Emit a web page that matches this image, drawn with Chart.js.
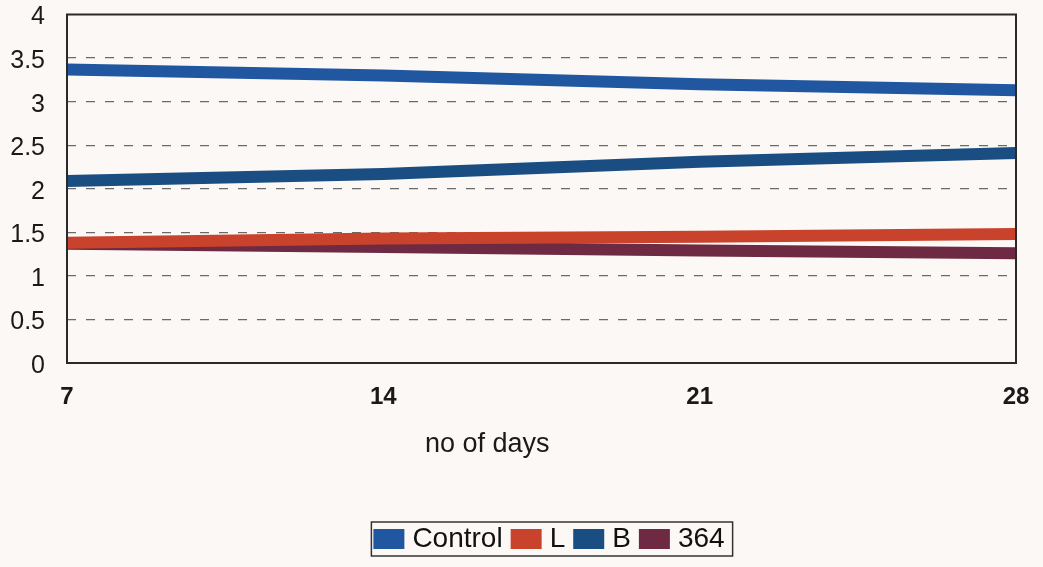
<!DOCTYPE html>
<html>
<head>
<meta charset="utf-8">
<script src="https://cdn.jsdelivr.net/npm/chart.js@4"></script>
<style>
  html, body { margin: 0; padding: 0; background: #fcf8f6; }
  #wrap { width: 1043px; height: 567px; position: relative; }
</style>
</head>
<body>
<div id="wrap"><canvas id="c" width="1043" height="567"></canvas></div>
<script>
// Days of measurement
const days = [7, 14, 21, 28];

// Series values per day
const controlVals = [3.37, 3.30, 3.20, 3.13];
const lVals       = [1.38, 1.43, 1.45, 1.48];
const bVals       = [2.09, 2.17, 2.31, 2.41];
const s364Vals    = [1.37, 1.33, 1.29, 1.26];

const seriesNames = ['Control', 'L', 'B', '364'];
const xTicks = [7, 14, 21, 28];
const yTickStep = 0.5;

const FONT = "'Liberation Sans', Arial, sans-serif";

function toPoints(vals) {
  return days.map((d, i) => ({ x: d, y: vals[i] }));
}

// Solid frame around the plot area
const frame = {
  id: 'frame',
  afterDatasetsDraw(chart) {
    const a = chart.chartArea, ctx = chart.ctx;
    ctx.save();
    ctx.strokeStyle = '#2a2a2a';
    ctx.lineWidth = 2;
    ctx.strokeRect(a.left, a.top, a.right - a.left, a.bottom - a.top);
    ctx.restore();
  }
};

// Axis caption under the day labels
const xCaption = {
  id: 'xCaption',
  afterDraw(chart) {
    const ctx = chart.ctx, xs = chart.scales.x;
    ctx.save();
    ctx.fillStyle = '#1a1a1a';
    ctx.font = "27px " + FONT;
    ctx.textAlign = 'center';
    ctx.textBaseline = 'middle';
    ctx.fillText('no of days', xs.getPixelForValue(16.3), chart.chartArea.bottom + 82);
    ctx.restore();
  }
};

// Legend sits a little right of the canvas centre
const legendShift = {
  id: 'legendShift',
  afterLayout(chart) {
    const lg = chart.legend;
    if (!lg) return;
    lg.left += 44;
    lg.right += 44;
  }
};

// Box around the legend entries
const legendBox = {
  id: 'legendBox',
  afterDraw(chart) {
    const lg = chart.legend;
    if (!lg || !lg.legendHitBoxes || !lg.legendHitBoxes.length) return;
    const hb = lg.legendHitBoxes;
    let l = Infinity, r = -Infinity, t = Infinity, b = -Infinity;
    hb.forEach(h => {
      l = Math.min(l, h.left); r = Math.max(r, h.left + h.width);
      t = Math.min(t, h.top); b = Math.max(b, h.top + h.height);
    });
    const ctx = chart.ctx;
    ctx.save();
    ctx.strokeStyle = '#333';
    ctx.lineWidth = 1.5;
    ctx.strokeRect(l - 8, t - 3, (r - l) + 16, (b - t) + 6);
    ctx.restore();
  }
};

const colors = ['#2157a0', '#c9432c', '#1a4d82', '#6e2a42'];
const valueSets = [controlVals, lVals, bVals, s364Vals];

new Chart(document.getElementById('c'), {
  type: 'line',
  data: {
    datasets: seriesNames.map((name, i) => ({
      label: name,
      data: toPoints(valueSets[i]),
      borderColor: colors[i],
      backgroundColor: colors[i],
      borderWidth: 12,
      pointRadius: 0,
      pointHoverRadius: 0,
      tension: 0,
      clip: 0,
      borderCapStyle: 'butt'
    }))
  },
  options: {
    responsive: false,
    animation: false,
    layout: { autoPadding: false, padding: { top: 14, right: 27, bottom: 4, left: 0 } },
    plugins: {
      tooltip: { enabled: false },
      legend: {
        position: 'bottom',
        labels: {
          boxWidth: 19,
          boxHeight: 8,
          padding: 14,
          color: '#111',
          font: { family: FONT, size: 28 }
        }
      }
    },
    scales: {
      x: {
        type: 'linear',
        min: 7,
        max: 28,
        afterBuildTicks(scale) { scale.ticks = xTicks.map(v => ({ value: v })); },
        afterFit(scale) { scale.height = 148; },
        grid: {
          display: true,
          drawOnChartArea: false,
          drawTicks: true,
          tickLength: 20,
          tickColor: 'rgba(0,0,0,0)',
          color: 'rgba(0,0,0,0)'
        },
        border: { display: false },
        ticks: {
          padding: 2,
          color: '#1a1a1a',
          maxRotation: 0,
          font: { family: FONT, size: 24, weight: 'bold', lineHeight: 1 }
        }
      },
      y: {
        min: 0,
        max: 4,
        afterFit(scale) { scale.width = 67; },
        ticks: {
          stepSize: yTickStep,
          padding: 2,
          labelOffset: 3,
          color: '#1a1a1a',
          font: { family: FONT, size: 25, lineHeight: 1 },
          callback: (v) => String(Number(v))
        },
        grid: {
          color: (c) => (c.tick.value === 0 || c.tick.value === 4) ? 'rgba(0,0,0,0)' : '#6a6a6a',
          lineWidth: 1.2,
          drawTicks: true,
          tickLength: 20,
          tickColor: 'rgba(0,0,0,0)'
        },
        border: { display: false, dash: [9, 10] }
      }
    }
  },
  plugins: [legendShift, frame, xCaption, legendBox]
});
</script>
</body>
</html>
